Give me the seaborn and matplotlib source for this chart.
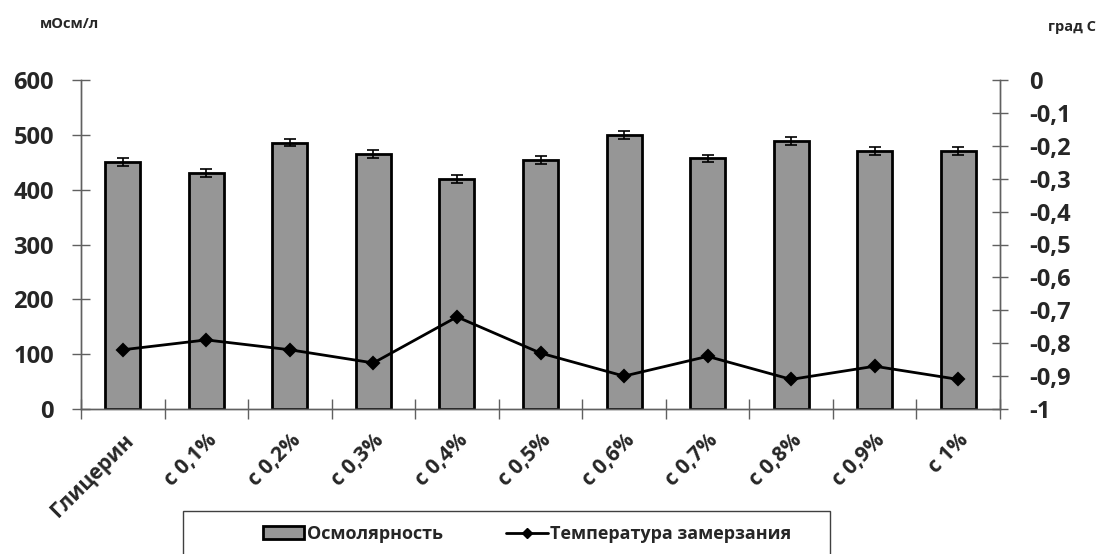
import matplotlib
matplotlib.use('Agg')
import matplotlib.pyplot as plt
import seaborn as sns
import pandas as pd
from matplotlib.ticker import MultipleLocator, FixedLocator, FuncFormatter
from matplotlib.lines import Line2D
from matplotlib.patches import Patch, Rectangle

# Data
categories = ['Глицерин', 'с 0,1%', 'с 0,2%', 'с 0,3%', 'с 0,4%', 'с 0,5%',
              'с 0,6%', 'с 0,7%', 'с 0,8%', 'с 0,9%', 'с 1%']
osmolarity = [451, 431, 486, 465, 420, 454, 500, 457, 489, 470, 470]
osm_err = [7, 7, 7, 7, 7, 7, 7, 7, 7, 7, 7]
freeze_temp = [-0.82, -0.79, -0.82, -0.86, -0.72, -0.83, -0.90, -0.84, -0.91, -0.87, -0.91]

df = pd.DataFrame({'cat': categories, 'osm': osmolarity, 'temp': freeze_temp})

sns.set_style('white')
plt.rcParams['font.family'] = ['Open Sans', 'Noto Sans', 'DejaVu Sans']
plt.rcParams['font.weight'] = 'bold'

W, H = 1103, 554
fig = plt.figure(figsize=(W / 100, H / 100), dpi=100)
ax = fig.add_axes([81 / W, 1 - 409 / H, (1000 - 81) / W, (409 - 80) / H])

sns.barplot(data=df, x='cat', y='osm', color='#969696', saturation=1,
            edgecolor='black', linewidth=2, width=0.42, errorbar=None, ax=ax)
xpos = ax.get_xticks()
ax.errorbar(xpos, osmolarity, yerr=osm_err, fmt='none', ecolor='black',
            elinewidth=1.2, capsize=4.5, capthick=1.2, zorder=5)

ax2 = ax.twinx()
sns.pointplot(data=df, x='cat', y='temp', color='black', marker='D',
              markersize=6, linewidth=2, errorbar=None, ax=ax2)

ax.set_xlim(-0.5, len(categories) - 0.5)
ax.set_ylim(0, 600)
ax2.set_ylim(-1, 0)

axcol = '#606060'
for a in (ax, ax2):
    a.set_xlabel('')
    a.set_ylabel('')
    for s in a.spines.values():
        s.set_color(axcol)
        s.set_linewidth(1)
    a.spines['top'].set_visible(False)

ax.yaxis.set_major_locator(MultipleLocator(100))
ax.tick_params(axis='y', direction='inout', length=13, width=1, color=axcol,
               labelsize=17, pad=13, left=True)
ax2.yaxis.set_major_locator(MultipleLocator(0.1))
ax2.yaxis.set_major_formatter(FuncFormatter(
    lambda v, p: '0' if abs(v) < 1e-9 else ('%g' % round(v, 1)).replace('.', ',')))
ax2.tick_params(axis='y', direction='inout', length=12, width=1, color=axcol,
                labelsize=17, pad=15, right=True)

ax.xaxis.set_minor_locator(FixedLocator([i - 0.5 for i in range(len(categories) + 1)]))
ax.tick_params(axis='x', which='minor', direction='inout', length=15, width=1,
               color=axcol, bottom=True)
ax.tick_params(axis='x', which='major', length=0, pad=15, labelsize=15)
ax.set_xticks(xpos)
ax.set_xticklabels(categories, rotation=45, ha='right', rotation_mode='anchor',
                   fontweight='bold')
for t in ax.get_yticklabels() + ax2.get_yticklabels():
    t.set_fontweight('bold')

fig.text(40 / W, 1 - 24 / H, 'мОсм/л', fontsize=10.5, fontweight='bold', va='center')
fig.text(1096 / W, 1 - 27 / H, 'град С', fontsize=10.5, fontweight='bold',
         va='center', ha='right')

handles = [Patch(facecolor='#969696', edgecolor='black', linewidth=2),
           Line2D([], [], color='black', linewidth=2, marker='D', markersize=5)]
fig.legend(handles, ['Осмолярность', 'Температура замерзания'],
           loc='center', bbox_to_anchor=(527 / W, 1 - 534 / H),
           ncol=2, frameon=False, prop={'weight': 'bold', 'size': 13},
           handlelength=2.3, handletextpad=0.15, columnspacing=3.5,
           borderpad=0, borderaxespad=0)
fig.patches.append(Rectangle((183 / W, -0.05), (830 - 183) / W, 0.05 + 1 - 511 / H,
                             transform=fig.transFigure, fill=False,
                             edgecolor='#404040', linewidth=1))

fig.savefig('out.png', dpi=100)
